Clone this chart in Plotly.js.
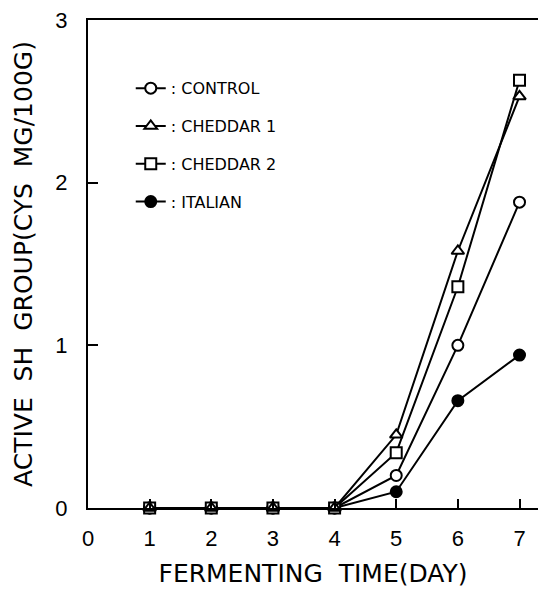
<!DOCTYPE html>
<html>
<head>
<meta charset="utf-8">
<script src="https://cdn.plot.ly/plotly-3.0.1.min.js"></script>
<style>html,body{margin:0;padding:0;background:#fff;}#chart{width:538px;height:590px;}</style>
</head>
<body>
<div id="chart"></div>
<script>
const days = [1, 2, 3, 4, 5, 6, 7];
const control = [0, 0, 0, 0, 0.20, 1.00, 1.88];
const cheddar1 = [0, 0, 0, 0, 0.45, 1.58, 2.53];
const cheddar2 = [0, 0, 0, 0, 0.34, 1.36, 2.63];
const italian = [0, 0, 0, 0, 0.10, 0.66, 0.94];
const names = [': CONTROL', ': CHEDDAR 1', ': CHEDDAR 2', ': ITALIAN'];
const xTicks = [0, 1, 2, 3, 4, 5, 6, 7];
const yTicks = [0, 1, 2, 3];

const FONT = 'Liberation Sans, Arial, sans-serif';
const TFONT = 'DejaVu Sans, sans-serif';
function tr(y, name, symbol, fill, group, rank) {
  return {
    x: days, y: y, name: name, type: 'scatter', mode: 'lines+markers',
    legendgroup: group, legendrank: rank,
    line: {color: '#000', width: 2},
    marker: {symbol: symbol, size: 11, color: fill, line: {color: '#000', width: 2}},
    cliponaxis: false
  };
}
const data = [
  tr(italian, names[3], 'circle', '#000', 'd', 4),
  tr(control, names[0], 'circle', '#fff', 'a', 1),
  tr(cheddar2, names[2], 'square', '#fff', 'c', 3),
  tr(cheddar1, names[1], 'triangle-up', '#fff', 'b', 2)
];
const NB = '\u00A0\u00A0';
const layout = {
  width: 538, height: 590,
  margin: {l: 88, r: 0, t: 20, b: 82},
  paper_bgcolor: '#fff', plot_bgcolor: '#fff',
  showlegend: true,
  legend: {x: 0.095, y: 0.895, xanchor: 'left', yanchor: 'top',
           font: {family: TFONT, size: 16, color: '#000'},
           traceorder: 'grouped', tracegroupgap: 14, bgcolor: 'rgba(0,0,0,0)'},
  xaxis: {range: [0, 7.3], tickvals: xTicks, ticktext: xTicks.map(String),
          showline: true, linecolor: '#000', linewidth: 2, mirror: true,
          ticks: 'inside', ticklen: 9, tickwidth: 2, tickcolor: '#000',
          showgrid: false, zeroline: false, ticklabelstandoff: 10,
          tickfont: {family: FONT, size: 22, color: '#000'},
          title: {text: 'FERMENTING' + NB + 'TIME(DAY)', standoff: 14, font: {family: TFONT, size: 25, color: '#000'}}},
  yaxis: {range: [0, 3], tickvals: yTicks, ticktext: yTicks.map(String),
          showline: true, linecolor: '#000', linewidth: 2,
          ticks: 'inside', ticklen: 10, tickwidth: 2, tickcolor: '#000',
          showgrid: false, zeroline: false, ticklabelstandoff: 14,
          tickfont: {family: FONT, size: 22, color: '#000'},
          title: {text: 'ACTIVE' + NB + 'SH' + NB + 'GROUP(CYS' + NB + 'MG/100G)', standoff: 16, font: {family: TFONT, size: 25, color: '#000'}}}
};
Plotly.newPlot('chart', data, layout, {displayModeBar: false, staticPlot: true});
</script>
</body>
</html>
